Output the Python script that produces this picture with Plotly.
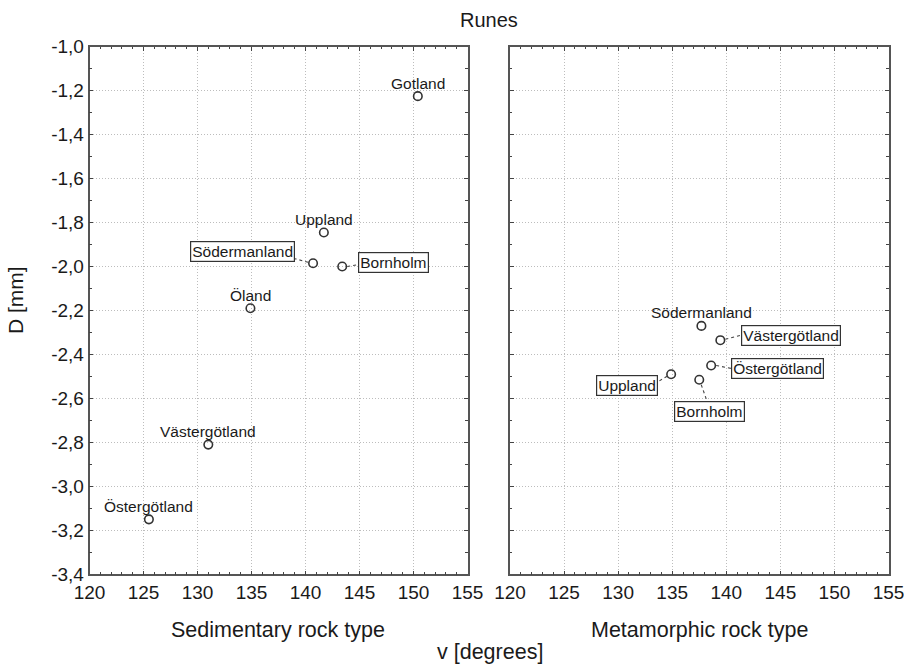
import plotly.graph_objects as go

# Sedimentary rock type
sed_regions = ["Gotland", "Uppland", "Södermanland", "Bornholm", "Öland",
               "Västergötland", "Östergötland"]
sed_v = [150.4, 141.7, 140.7, 143.4, 134.9, 131.0, 125.5]
sed_D = [-1.225, -1.845, -1.985, -2.0, -2.19, -2.81, -3.15]

# Metamorphic rock type
met_regions = ["Södermanland", "Västergötland", "Östergötland", "Uppland", "Bornholm"]
met_v = [137.7, 139.45, 138.6, 134.9, 137.5]
met_D = [-2.27, -2.335, -2.45, -2.49, -2.515]

x_ticks = [120, 125, 130, 135, 140, 145, 150, 155]
x_labels = ["120", "125", "130", "135", "140", "145", "150", "155"]
y_ticks = [-3.4, -3.2, -3.0, -2.8, -2.6, -2.4, -2.2, -2.0, -1.8, -1.6, -1.4, -1.2, -1.0]
y_labels = ["-3,4", "-3,2", "-3,0", "-2,8", "-2,6", "-2,4", "-2,2", "-2,0",
            "-1,8", "-1,6", "-1,4", "-1,2", "-1,0"]

FONT = "Liberation Sans, Arial, sans-serif"
INK = "#1a1a1a"
W, H = 904, 665

# label placement: plain text above the marker unless listed here;
# listed ones are boxed, offset by (dx, dy) px, with a dotted leader line
sed_boxes = {
    "Södermanland": (-71, 12, (-5, 1), (-18, 4.5)),
    "Bornholm": (51, 4, (5, 0), (16, 2)),
}
met_boxes = {
    "Västergötland": (71, 5, (5, 1), (21, 5)),
    "Östergötland": (66, -3, (5, 0), (20, -3)),
    "Uppland": (-44, -11, (-4, -2), (-14, -8)),
    "Bornholm": (10, -32, (2, -5), (8, -22)),
}

fig = go.Figure()
marker_style = dict(symbol="circle-open", size=8.5, color="#333333", line=dict(width=1.6))
fig.add_trace(go.Scatter(x=sed_v, y=sed_D, mode="markers", xaxis="x", yaxis="y",
                         marker=marker_style, showlegend=False, hoverinfo="skip"))
fig.add_trace(go.Scatter(x=met_v, y=met_D, mode="markers", xaxis="x2", yaxis="y2",
                         marker=marker_style, showlegend=False, hoverinfo="skip"))

annotations = []
shapes = []


def add_labels(names, xs, ys, boxes, xref, yref):
    for name, xv, yv in zip(names, xs, ys):
        if name in boxes:
            dx, dy, (sx0, sy0), (sx1, sy1) = boxes[name]
            annotations.append(dict(
                x=xv, y=yv, xref=xref, yref=yref, text=name, showarrow=False,
                xshift=dx, yshift=dy, font=dict(family=FONT, size=15.5, color=INK),
                bordercolor="#333333", borderwidth=1.2, borderpad=1, bgcolor="white"))
            shapes.append(dict(
                type="line", xref=xref, yref=yref,
                xsizemode="pixel", ysizemode="pixel", xanchor=xv, yanchor=yv,
                x0=sx0, x1=sx1, y0=sy0, y1=sy1,
                line=dict(color="#444444", width=1.1, dash="dot")))
        else:
            annotations.append(dict(
                x=xv, y=yv, xref=xref, yref=yref, text=name, showarrow=False,
                yshift=13, font=dict(family=FONT, size=15.5, color=INK)))


add_labels(sed_regions, sed_v, sed_D, sed_boxes, "x", "y")
add_labels(met_regions, met_v, met_D, met_boxes, "x2", "y2")


def px(x):
    return x / W


def py(y):
    return 1 - y / H


text_items = [
    ("Runes", 489, 20, 0, 20),
    ("Sedimentary rock type", 278, 630, 0, 21.5),
    ("Metamorphic rock type", 699, 630, 0, 21.5),
    ("v [degrees]", 490, 652, 0, 21.5),
    ("D [mm]", 15, 300, -90, 21),
]
for txt, x, y, ang, size in text_items:
    annotations.append(dict(x=px(x), y=py(y), xref="paper", yref="paper", text=txt,
                            showarrow=False, textangle=ang, xanchor="center",
                            yanchor="middle", font=dict(family=FONT, size=size, color=INK)))

grid_style = dict(showgrid=True, gridcolor="#bdbdbd", gridwidth=1, griddash="1px,2px")
frame_style = dict(ticks="inside", ticklen=4, tickwidth=1.2, tickcolor="#444444",
                   showline=True, linecolor="#555555", linewidth=1.6, mirror="allticks",
                   zeroline=False, automargin=False, ticklabeloverflow="allow",
                   tickfont=dict(family=FONT, size=19, color=INK))

axis_common = dict(
    range=[120, 155], tickvals=x_ticks, ticktext=x_labels,
    minor=dict(dtick=1, ticks="inside", ticklen=2.5, tickcolor="#444444", showgrid=False),
    **grid_style, **frame_style,
)
yaxis_common = dict(
    range=[-3.4, -1.0], tickvals=y_ticks,
    minor=dict(dtick=0.1, tick0=-3.4, ticks="inside", ticklen=2.5, tickcolor="#444444",
               showgrid=False),
    **grid_style, **frame_style,
)

y_dom = [py(574.3), py(46.7)]
fig.update_layout(
    width=W, height=H, margin=dict(l=0, r=0, t=0, b=0, autoexpand=False),
    paper_bgcolor="white", plot_bgcolor="white",
    xaxis=dict(domain=[px(89.5), px(467.5)], anchor="y", **axis_common),
    xaxis2=dict(domain=[px(510), px(888.5)], anchor="y2", **axis_common),
    yaxis=dict(domain=y_dom, anchor="x", ticktext=y_labels, **yaxis_common),
    yaxis2=dict(domain=y_dom, anchor="x2", showticklabels=False, **yaxis_common),
    annotations=annotations, shapes=shapes,
)

fig.write_html("out.html")
